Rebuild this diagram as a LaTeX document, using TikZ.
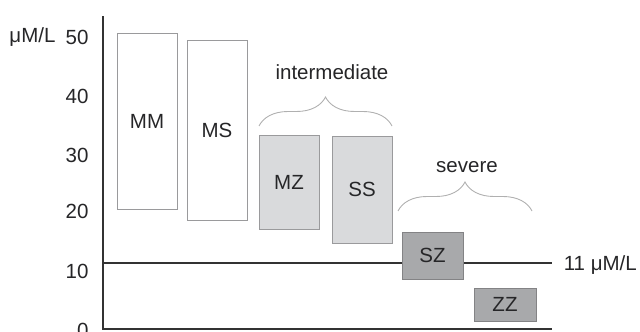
\documentclass[tikz,border=0pt]{standalone}
\usepackage{fontspec}
\setmainfont{Liberation Sans}
\usetikzlibrary{decorations.pathreplacing}
\definecolor{txt}{HTML}{262628}
\definecolor{axisc}{HTML}{333333}
\definecolor{lightfill}{HTML}{D9DADC}
\definecolor{darkfill}{HTML}{A8A9AB}
\definecolor{edgec}{HTML}{9A9A9C}
\definecolor{bracec}{HTML}{B0B0B0}
\begin{document}
\begin{tikzpicture}[x=1pt,y=-1pt,
  every node/.style={text=txt,font=\fontsize{20.5}{24}\selectfont},
  box/.style={draw=edgec,line width=0.9pt,inner sep=0pt,outer sep=0pt},
  wbox/.style={box,fill=white},
  lbox/.style={box,fill=lightfill},
  dbox/.style={box,fill=darkfill,draw=edgec!85!black},
  axisline/.style={draw=axisc,line width=1.8pt},
  bracestyle/.style={draw=bracec,line width=0.9pt,decorate,decoration={brace,amplitude=29pt}},
  tick/.style={anchor=east}]
\useasboundingbox (0,0) rectangle (640,332);
% axes
\coordinate (top) at (103,16);
\coordinate (origin) at (103,329);
\coordinate (xend) at (552,329);
\coordinate (l11a) at (103,263);
\coordinate (l11b) at (552,263);
\draw[axisline] (top) -- (origin) -- (xend);
\draw[axisline] (l11a) -- (l11b);
% tick labels
\node[tick] (t50) at (92,37) {50};
\node[tick] (t40) at (92,96) {40};
\node[tick] (t30) at (92,155) {30};
\node[tick] (t20) at (92,211) {20};
\node[tick] (t10) at (92,271) {10};
\node[tick] (t0) at (92,330) {0};
\node[anchor=east] (unit) at (59,37) {μM/L};
\node[anchor=east,inner sep=0pt] (lab11) at (637,265) {11 μM/L};
% boxes
\node[wbox,minimum width=60pt,minimum height=176pt] (MM) at (147,121) {MM};
\node[wbox,minimum width=60pt,minimum height=180pt] (MS) at (217,130) {MS};
\node[lbox,minimum width=60pt,minimum height=94pt] (MZ) at (289,182) {MZ};
\node[lbox,minimum width=60pt,minimum height=107pt] (SS) at (362,189.5) {SS};
\node[dbox,minimum width=61pt,minimum height=47pt] (SZ) at (432.5,255.5) {SZ};
\node[dbox,minimum width=62pt,minimum height=33pt] (ZZ) at (505,304.5) {ZZ};
% braces
\coordinate (ib1) at (259,126);
\coordinate (ib2) at (392,126);
\draw[bracestyle] (ib1) -- (ib2);
\node (inter) at (332,72) {intermediate};
\coordinate (sb1) at (398,211);
\coordinate (sb2) at (532,211);
\draw[bracestyle] (sb1) -- (sb2);
\node (sev) at (467,167) {severe};
\end{tikzpicture}
\end{document}
